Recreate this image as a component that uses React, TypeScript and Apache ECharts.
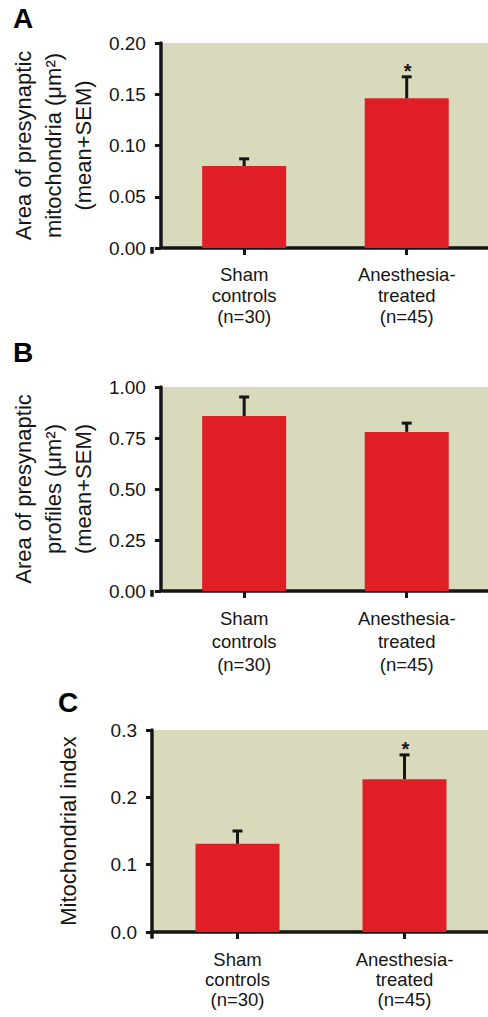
import React, { useEffect, useRef } from "react";
import * as echarts from "echarts";

// ---- data ----
const categories = ["Sham\ncontrols\n(n=30)", "Anesthesia-\ntreated\n(n=45)"];

const mitoMean = [0.08, 0.146];
const mitoSem = [0.007, 0.021];
const mitoSig = ["", "*"];
const mitoTicks = { min: 0, max: 0.2, interval: 0.05, decimals: 2 };

const profMean = [0.858, 0.78];
const profSem = [0.093, 0.043];
const profSig = ["", ""];
const profTicks = { min: 0, max: 1, interval: 0.25, decimals: 2 };

const indexMean = [0.131, 0.227];
const indexSem = [0.019, 0.036];
const indexSig = ["", "*"];
const indexTicks = { min: 0, max: 0.3, interval: 0.1, decimals: 1 };

const panelLetters = ["A", "B", "C"];
const yTitles = [
  "Area of presynaptic\nmitochondria (μm²)\n(mean+SEM)",
  "Area of presynaptic\nprofiles (μm²)\n(mean+SEM)",
  "Mitochondrial index",
];

// ---- layout / style ----
const W = 488;
const H = 1017;
const FONT = "'Liberation Sans', Arial, Helvetica, sans-serif";
const BG = "#D9D9BC";
const RED = "#DF1E25";
const INK = "#151515";
const GRID_LEFT = 154;
const Y_OFFSET = 2;

const layouts = [
  { top: 43, height: 205, xOffset: 4, xLineHeight: 21, xMargin: 12, nameGap: 53, letterX: 13, letterY: 20 },
  { top: 387, height: 204, xOffset: 4, xLineHeight: 23, xMargin: 12, nameGap: 53, letterX: 13, letterY: 354 },
  { top: 730, height: 202, xOffset: 5, xLineHeight: 20, xMargin: 12, nameGap: 69, letterX: 58, letterY: 704 },
];

const panels = [
  { mean: mitoMean, sem: mitoSem, sig: mitoSig, ticks: mitoTicks },
  { mean: profMean, sem: profSem, sig: profSig, ticks: profTicks },
  { mean: indexMean, sem: indexSem, sig: indexSig, ticks: indexTicks },
];

function buildOption() {
  const grid: any[] = [];
  const xAxis: any[] = [];
  const yAxis: any[] = [];
  const series: any[] = [];
  const graphic: any[] = [];

  panels.forEach((p, i) => {
    const L = layouts[i];
    grid.push({
      left: GRID_LEFT,
      right: 0,
      top: L.top,
      height: L.height,
      show: true,
      backgroundColor: BG,
      borderWidth: 0,
    });
    xAxis.push({
      type: "category",
      gridIndex: i,
      data: categories,
      offset: L.xOffset,
      axisLine: { show: true, lineStyle: { color: INK, width: 3.5 } },
      axisTick: { show: true, alignWithLabel: true, length: 7, lineStyle: { color: INK, width: 3 } },
      axisLabel: {
        color: INK,
        fontSize: 18.5,
        fontFamily: FONT,
        lineHeight: L.xLineHeight,
        margin: L.xMargin,
        interval: 0,
      },
      splitLine: { show: false },
    });
    yAxis.push({
      type: "value",
      gridIndex: i,
      min: p.ticks.min,
      max: p.ticks.max,
      interval: p.ticks.interval,
      offset: Y_OFFSET,
      axisLine: { show: true, lineStyle: { color: INK, width: 3.5 } },
      axisTick: { show: true, length: 6, lineStyle: { color: INK, width: 3 } },
      splitLine: { show: false },
      axisLabel: {
        color: INK,
        fontSize: 19,
        fontFamily: FONT,
        margin: 15,
        formatter: (v: number) => v.toFixed(p.ticks.decimals),
      },
      name: yTitles[i],
      nameLocation: "middle",
      nameRotate: 90,
      nameGap: L.nameGap,
      nameTextStyle: { color: INK, fontSize: 22, fontFamily: FONT, lineHeight: 30, align: "center" },
    });
    series.push({
      type: "bar",
      xAxisIndex: i,
      yAxisIndex: i,
      data: p.mean,
      barWidth: 84,
      itemStyle: { color: RED },
      silent: true,
    });
    const sig = p.sig;
    series.push({
      type: "custom",
      xAxisIndex: i,
      yAxisIndex: i,
      data: p.mean.map((m, k) => [k, m, p.sem[k]]),
      encode: { x: 0, y: 1 },
      z: 5,
      silent: true,
      renderItem: (params: any, api: any) => {
        const x = api.value(0);
        const m = api.value(1);
        const s = api.value(2);
        const p0 = api.coord([x, m]);
        const p1 = api.coord([x, m + s]);
        const children: any[] = [
          {
            type: "line",
            shape: { x1: p0[0], y1: p0[1], x2: p1[0], y2: p1[1] },
            style: { stroke: INK, lineWidth: 3 },
          },
          {
            type: "line",
            shape: { x1: p1[0] - 5, y1: p1[1], x2: p1[0] + 5, y2: p1[1] },
            style: { stroke: INK, lineWidth: 3 },
          },
        ];
        const mark = sig[params.dataIndex];
        if (mark) {
          children.push({
            type: "text",
            x: p1[0] + 1,
            y: p1[1] - 6,
            style: {
              text: mark,
              fill: INK,
              fontSize: 20,
              fontWeight: "bold",
              fontFamily: FONT,
              align: "center",
              verticalAlign: "middle",
            },
          });
        }
        return { type: "group", children };
      },
    });

    const bottom = L.top + L.height;
    graphic.push({
      type: "line",
      shape: {
        x1: GRID_LEFT - Y_OFFSET,
        y1: bottom - 1,
        x2: GRID_LEFT - Y_OFFSET,
        y2: bottom + L.xOffset + 1.75,
      },
      style: { stroke: INK, lineWidth: 3.5 },
      silent: true,
    });
    graphic.push({
      type: "text",
      left: L.letterX,
      top: L.letterY - 16,
      style: {
        text: panelLetters[i],
        fill: "#000",
        fontSize: 28,
        fontWeight: "bold",
        fontFamily: FONT,
      },
      silent: true,
    });
  });

  return {
    animation: false,
    backgroundColor: "#ffffff",
    grid,
    xAxis,
    yAxis,
    series,
    graphic,
  };
}

export default function App() {
  const ref = useRef<HTMLDivElement>(null);
  useEffect(() => {
    document.body.style.margin = "0";
    if (!ref.current) return;
    const chart = echarts.init(ref.current, undefined, { renderer: "svg" });
    chart.setOption(buildOption() as any);
    return () => {
      chart.dispose();
    };
  }, []);
  return <div ref={ref} style={{ width: W, height: H }} />;
}
